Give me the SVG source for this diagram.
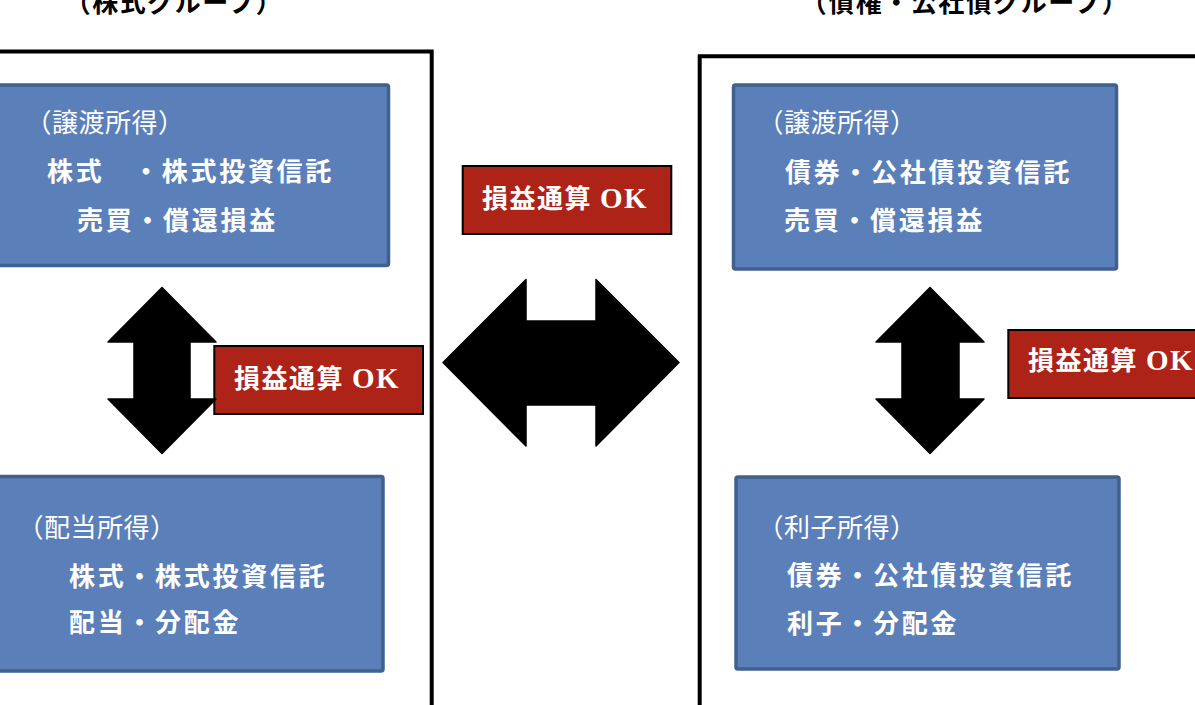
<svg xmlns="http://www.w3.org/2000/svg" width="1195" height="705" viewBox="0 0 1195 705">
<style>
.title{font-family:"Noto Sans CJK JP","Liberation Sans",sans-serif;font-size:26px;font-weight:bold;fill:#000;letter-spacing:1.5px;text-anchor:middle}
.frame{fill:none;stroke:#000;stroke-width:4;stroke-linejoin:miter}
.blue{fill:#5B80B9;stroke:#40608E;stroke-width:3.5}
.red{fill:#AE2318;stroke:#000;stroke-width:2}
.h{font-family:"Noto Sans CJK JP","Liberation Sans",sans-serif;font-size:26px;fill:#fff;letter-spacing:0.5px}
.b{font-family:"Noto Sans CJK JP","Liberation Sans",sans-serif;font-size:26px;font-weight:bold;fill:#fff;letter-spacing:2.7px}
.ok{font-family:"Liberation Serif","Noto Sans CJK JP",serif;font-size:26px;font-weight:bold;fill:#fff;letter-spacing:1.5px}
.arrow{fill:#000;stroke:#000;stroke-width:1.5;stroke-linejoin:round}
</style>
<rect width="1195" height="705" fill="#fff"/>
<g id="group-stock">
  <text class="title" x="174" y="12">（株式グループ）</text>
  <path class="frame" d="M-5,51.5 H431.7 V710"/>
</g>
<g id="group-bond">
  <text class="title" x="965" y="12">（債権・公社債グループ）</text>
  <path class="frame" d="M1200,56.3 H699.7 V710"/>
</g>
<g id="stock-transfer">
  <rect class="blue" x="-5" y="85" width="393.5" height="180.5" rx="2"/>
  <text class="h" x="25.5" y="132">（譲渡所得）</text>
  <text class="b" x="47" y="181">株式　・株式投資信託</text>
  <text class="b" x="77" y="230">売買・償還損益</text>
</g>
<g id="stock-dividend">
  <rect class="blue" x="-5" y="476.5" width="388" height="194.5" rx="2"/>
  <text class="h" x="17.5" y="537">（配当所得）</text>
  <text class="b" x="69" y="586">株式・株式投資信託</text>
  <text class="b" x="69" y="632">配当・分配金</text>
</g>
<g id="bond-transfer">
  <rect class="blue" x="733.5" y="85" width="383" height="184" rx="2"/>
  <text class="h" x="757.5" y="132">（譲渡所得）</text>
  <text class="b" x="785" y="182">債券・公社債投資信託</text>
  <text class="b" x="784" y="230">売買・償還損益</text>
</g>
<g id="bond-interest">
  <rect class="blue" x="736" y="477" width="383" height="192" rx="2"/>
  <text class="h" x="757.5" y="537">（利子所得）</text>
  <text class="b" x="787" y="585">債券・公社債投資信託</text>
  <text class="b" x="787" y="633">利子・分配金</text>
</g>
<g id="ok-center">
  <rect class="red" x="462.7" y="166" width="208.6" height="68"/>
  <text class="ok" x="482" y="208">損益通算 <tspan font-size="29">OK</tspan></text>
</g>
<g id="ok-left">
  <rect class="red" x="214.3" y="346" width="208.7" height="68"/>
  <text class="ok" x="234" y="388">損益通算 <tspan font-size="29">OK</tspan></text>
</g>
<g id="ok-right">
  <rect class="red" x="1008.3" y="330" width="220" height="68"/>
  <text class="ok" x="1028" y="370">損益通算 <tspan font-size="29">OK</tspan></text>
</g>
<g id="connectors">
  <polygon class="arrow" points="162,287.5 216,342 190,342 190,399 216,399 162,453.5 108,399 134,399 134,342 108,342"/>
  <polygon class="arrow" points="930,287.5 984,342 959,342 959,399 984,399 930,453.5 876,399 902,399 902,342 876,342"/>
  <polygon class="arrow" points="443,362.5 526,279.5 526,321 596,321 596,279.5 679,362.5 596,446 596,405 526,405 526,446"/>
</g>
</svg>
